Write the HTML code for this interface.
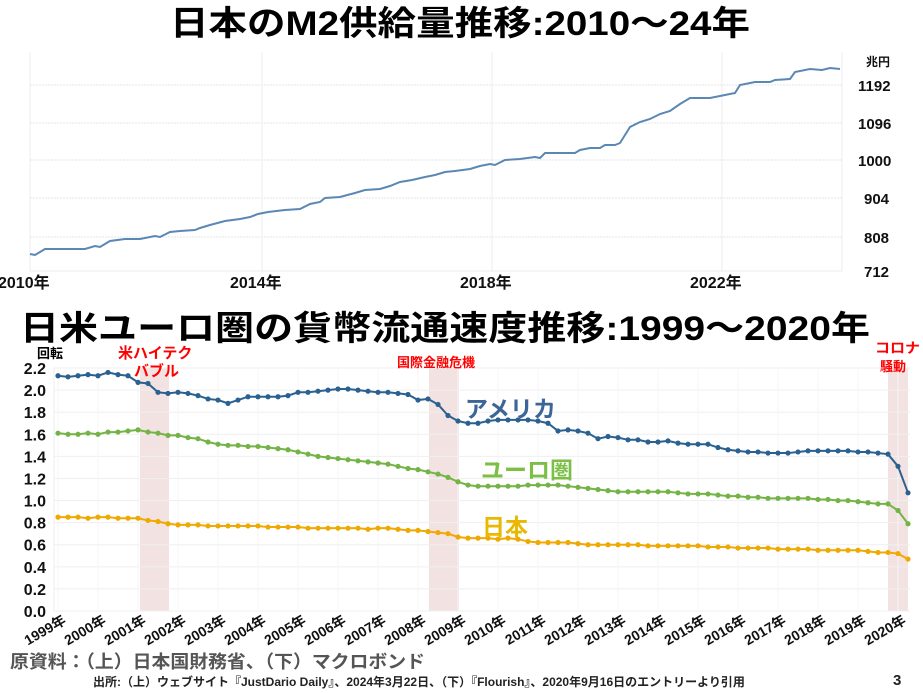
<!DOCTYPE html>
<html><head><meta charset="utf-8"><style>
body{margin:0;width:923px;height:693px;background:#fff;overflow:hidden;font-family:"Liberation Sans","Noto Sans CJK JP",sans-serif}
svg{position:absolute;left:0;top:0}
</style></head><body>
<svg id="s" width="923" height="693" xmlns="http://www.w3.org/2000/svg" font-family="Liberation Sans, Noto Sans CJK JP, sans-serif">
<text x="170" y="35" textLength="580" lengthAdjust="spacingAndGlyphs" font-size="34" font-weight="bold" fill="#000">日本のM2供給量推移:2010～24年</text>
<g stroke="#e6e6e6" stroke-width="1" stroke-dasharray="2,1">
<line x1="30" y1="85" x2="842" y2="85"/><line x1="30" y1="123" x2="842" y2="123"/><line x1="30" y1="160" x2="842" y2="160"/><line x1="30" y1="198" x2="842" y2="198"/><line x1="30" y1="237" x2="842" y2="237"/>
</g>
<g stroke="#ececec"><line x1="30" y1="52" x2="30" y2="271"/><line x1="262" y1="52" x2="262" y2="271"/><line x1="492" y1="52" x2="492" y2="271"/><line x1="722" y1="52" x2="722" y2="271"/><line x1="842" y1="52" x2="842" y2="271"/><line x1="30" y1="271" x2="842" y2="271"/></g>
<polyline fill="none" stroke="#5b87b5" stroke-width="2" points="30,254 35,255 45,249 85,249 95,246 100,247 110,241 125,239 140,239 155,236 160,237 170,232 180,231 195,230 200,228 210,225 225,221 240,219 250,217 258,214 268,212 285,210 300,209 310,204 320,202 325,198 340,197 355,193 365,190 380,189 390,186 400,182 412,180 425,177 435,175 445,172 455,171 470,169 480,166 490,164 495,165 505,160 520,159 535,157 540,158 545,153 560,153 575,153 580,150 590,148 600,148 605,145 615,145 620,143 630,127 640,122 650,119 660,114 670,111 680,104 690,98 710,98 720,96 735,93 740,85 755,82 770,82 775,80 790,79 795,72 810,69 822,70 830,68 840,69"/>
<g font-size="15" font-weight="bold" fill="#111">
<text x="866" y="66" font-size="12">兆円</text>
<text x="858" y="91">1192</text><text x="858" y="129">1096</text><text x="858" y="166">1000</text><text x="864" y="204">904</text><text x="864" y="243">808</text><text x="864" y="277">712</text>
<text x="-2" y="288" font-size="16">2010年</text><text x="230" y="288" font-size="16">2014年</text><text x="460" y="288" font-size="16">2018年</text><text x="690" y="288" font-size="16">2022年</text>
</g>
<text x="20" y="340" textLength="850" lengthAdjust="spacingAndGlyphs" font-size="34" font-weight="bold" fill="#000">日米ユーロ圏の貨幣流通速度推移:1999～2020年</text>
<g fill="#f3e2e2"><rect x="140" y="368" width="29" height="243"/><rect x="429" y="368" width="30" height="243"/><rect x="888" y="368" width="20" height="243"/></g>
<g id="grid" stroke="#efefef"></g>
<line x1="54" y1="368" x2="54" y2="611" stroke="#eee"/>
<g id="ser"></g>
<g id="yl" font-size="16" font-weight="bold" fill="#111" text-anchor="end"></g>
<g id="xl" font-size="14" font-weight="bold" fill="#111"></g>
<text x="37" y="358" font-size="13" font-weight="bold">回転</text>
<g fill="#ff0000" font-weight="bold">
<text x="118" y="358" font-size="15">米ハイテク</text><text x="134" y="376" font-size="15">バブル</text>
<text x="397" y="367" font-size="13">国際金融危機</text>
<text x="875" y="353" font-size="14" textLength="45" lengthAdjust="spacingAndGlyphs">コロナ</text><text x="880" y="371" font-size="13">騒動</text>
</g>
<text x="465" y="417" font-size="23" font-weight="bold" fill="#3d6597">アメリカ</text>
<text x="481" y="478" font-size="23" font-weight="bold" fill="#7cbf45">ユーロ圏</text>
<text x="482" y="535" font-size="23" font-weight="bold" fill="#e8b900">日本</text>
<text x="10" y="668" textLength="415" lengthAdjust="spacingAndGlyphs" font-size="18" font-weight="bold" fill="#555">原資料：（上）日本国財務省、（下）マクロボンド</text>
<text x="93" y="686" font-size="12" font-weight="bold" fill="#222">出所:（上）ウェブサイト『JustDario Daily』、2024年3月22日、（下）『Flourish』、2020年9月16日のエントリーより引用</text>
<text x="893" y="685" font-size="15" font-weight="bold" fill="#222">3</text>
</svg>
<script>
var NS="http://www.w3.org/2000/svg";
function el(t,a,p){var e=document.createElementNS(NS,t);for(var k in a)e.setAttribute(k,a[k]);p.appendChild(e);return e;}
var us=[2.13,2.12,2.13,2.14,2.13,2.16,2.14,2.13,2.07,2.06,1.98,1.97,1.98,1.97,1.95,1.92,1.91,1.88,1.91,1.94,1.94,1.94,1.94,1.95,1.98,1.98,1.99,2.00,2.01,2.01,2.00,1.99,1.98,1.98,1.97,1.96,1.91,1.92,1.87,1.77,1.72,1.70,1.70,1.72,1.73,1.73,1.73,1.73,1.72,1.70,1.63,1.64,1.63,1.61,1.56,1.58,1.57,1.55,1.55,1.53,1.53,1.54,1.52,1.51,1.51,1.51,1.48,1.46,1.45,1.44,1.44,1.43,1.43,1.43,1.44,1.45,1.45,1.45,1.45,1.45,1.44,1.44,1.43,1.42,1.31,1.07];
var eu=[1.61,1.60,1.60,1.61,1.60,1.62,1.62,1.63,1.64,1.62,1.61,1.59,1.59,1.57,1.56,1.53,1.51,1.50,1.50,1.49,1.49,1.48,1.47,1.46,1.44,1.42,1.40,1.39,1.38,1.37,1.36,1.35,1.34,1.33,1.31,1.29,1.28,1.26,1.24,1.21,1.17,1.14,1.13,1.13,1.13,1.13,1.13,1.14,1.14,1.14,1.14,1.13,1.12,1.11,1.10,1.09,1.08,1.08,1.08,1.08,1.08,1.08,1.07,1.06,1.06,1.06,1.05,1.04,1.04,1.03,1.03,1.02,1.02,1.02,1.02,1.02,1.01,1.01,1.00,1.00,0.99,0.98,0.97,0.97,0.91,0.79];
var jp=[0.85,0.85,0.85,0.84,0.85,0.85,0.84,0.84,0.84,0.82,0.81,0.79,0.78,0.78,0.78,0.77,0.77,0.77,0.77,0.77,0.77,0.76,0.76,0.76,0.76,0.75,0.75,0.75,0.75,0.75,0.75,0.74,0.75,0.75,0.74,0.73,0.73,0.72,0.71,0.70,0.67,0.66,0.66,0.66,0.65,0.66,0.65,0.63,0.62,0.62,0.62,0.62,0.61,0.60,0.60,0.60,0.60,0.60,0.60,0.59,0.59,0.59,0.59,0.59,0.59,0.58,0.58,0.58,0.57,0.57,0.57,0.57,0.56,0.56,0.56,0.56,0.55,0.55,0.55,0.55,0.55,0.54,0.53,0.53,0.52,0.47];
function X(i){return 58+i*10;}function Y(v){return 611-v*110.45;}
var g=document.getElementById('grid'),yl=document.getElementById('yl'),xl=document.getElementById('xl'),s=document.getElementById('ser');
for(var k=0;k<=11;k++){var v=k*0.2;el('line',{x1:54,x2:910,y1:Y(v),y2:Y(v)},g);var t=el('text',{x:46,y:Y(v)+6},yl);t.textContent=v.toFixed(1);}
for(var y=0;y<22;y++){var x=X(y*4);el('line',{x1:x,x2:x,y1:368,y2:611,stroke:'#f6f6f6'},g);var t=el('text',{x:0,y:0,transform:'translate('+(x+9)+','+(623)+') rotate(-30)','text-anchor':'end'},xl);t.textContent=(1999+y)+'年';}
[[us,'#2b6191'],[eu,'#74b345'],[jp,'#f0a900']].forEach(function(d){var p=d[0].map(function(v,i){return X(i)+','+Y(v)}).join(' ');el('polyline',{points:p,fill:'none',stroke:d[1],'stroke-width':2},s);d[0].forEach(function(v,i){el('circle',{cx:X(i),cy:Y(v),r:2.6,fill:d[1]},s);});});
</script>
</body></html>
